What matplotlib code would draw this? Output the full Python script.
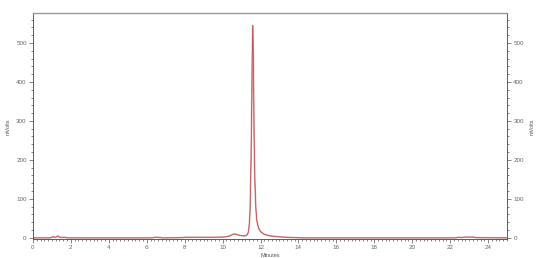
import matplotlib
matplotlib.use("Agg")
import matplotlib.pyplot as plt
from matplotlib.ticker import MultipleLocator

plt.rcParams.update({
    "font.family": ["Liberation Sans", "DejaVu Sans"],
    "font.size": 4.5})

# chromatogram trace (minutes, mVolts)
time = [0.0, 0.9, 1.0, 1.05, 1.12, 1.2, 1.27, 1.32, 1.38, 1.5, 1.65, 1.72, 1.8,
        6.3, 6.42, 6.55, 6.7, 6.8, 7.9, 8.0, 9.5, 10.0, 10.2, 10.4, 10.52,
        10.6, 10.68, 10.8, 10.95, 11.1, 11.22, 11.3, 11.36, 11.41, 11.45,
        11.5, 11.53, 11.56, 11.59, 11.62, 11.66, 11.7, 11.75, 11.8, 11.9,
        12.0, 12.2, 12.5, 12.8, 13.2, 13.6, 14.2, 22.3, 22.45, 22.6, 22.8,
        23.0, 23.2, 23.4, 25.0]
signal = [0.0, 0.0, 1.5, 3.0, 2.0, 1.5, 3.5, 5.0, 2.0, 1.0, 1.5, 1.0, 0.0,
          0.0, 1.5, 1.5, 1.0, 0.0, 0.5, 1.5, 1.5, 2.0, 3.0, 5.5, 8.5,
          10.0, 9.5, 7.5, 6.0, 5.0, 5.5, 8.0, 15.0, 35.0, 70.0,
          200.0, 310.0, 450.0, 545.0, 470.0, 270.0, 150.0, 80.0, 45.0, 25.0,
          16.0, 9.0, 5.0, 3.5, 2.0, 1.0, 0.0, 0.0, 1.5, 1.0, 2.0,
          2.0, 2.0, 0.5, 0.0]

x_ticks = [0, 2, 4, 6, 8, 10, 12, 14, 16, 18, 20, 22, 24]
y_ticks = [0, 100, 200, 300, 400, 500]

fig = plt.figure(figsize=(5.4, 2.58), dpi=100)
ax = fig.add_axes([0.061, 0.075, 0.878, 0.875])

ax.plot(time, signal, color="#e3a8a8", linewidth=1.2)
ax.plot(time, signal, color="#b84848", linewidth=0.5)

ax.set_xlim(0, 25)
ax.set_ylim(-2, 577)
ax.set_xticks(x_ticks)
ax.set_yticks(y_ticks)
ax.xaxis.set_minor_locator(MultipleLocator(0.2))
ax.yaxis.set_minor_locator(MultipleLocator(20))

ax.tick_params(which="both", colors="#555555", labelcolor="#666666",
               width=0.5, labelsize=4.5, pad=1.5)
ax.tick_params(which="major", length=3)
ax.tick_params(which="minor", length=1.5)
ax.tick_params(axis="y", which="both", left=True, right=True,
               labelleft=True, labelright=True)

for side in ["left", "right", "bottom"]:
    ax.spines[side].set_color("#444444")
    ax.spines[side].set_linewidth(0.6)
ax.spines["top"].set_color("#999999")
ax.spines["top"].set_linewidth(1.0)

ax.set_xlabel("Minutes", fontsize=4, color="#555555", labelpad=2)
fig.text(0.015, 0.51, "mVolts", rotation=90, fontsize=4, color="#555555",
         ha="center", va="center")
fig.text(0.985, 0.51, "mVolts", rotation=90, fontsize=4, color="#555555",
         ha="center", va="center")

fig.savefig("out.png", dpi=100)
plt.close(fig)
